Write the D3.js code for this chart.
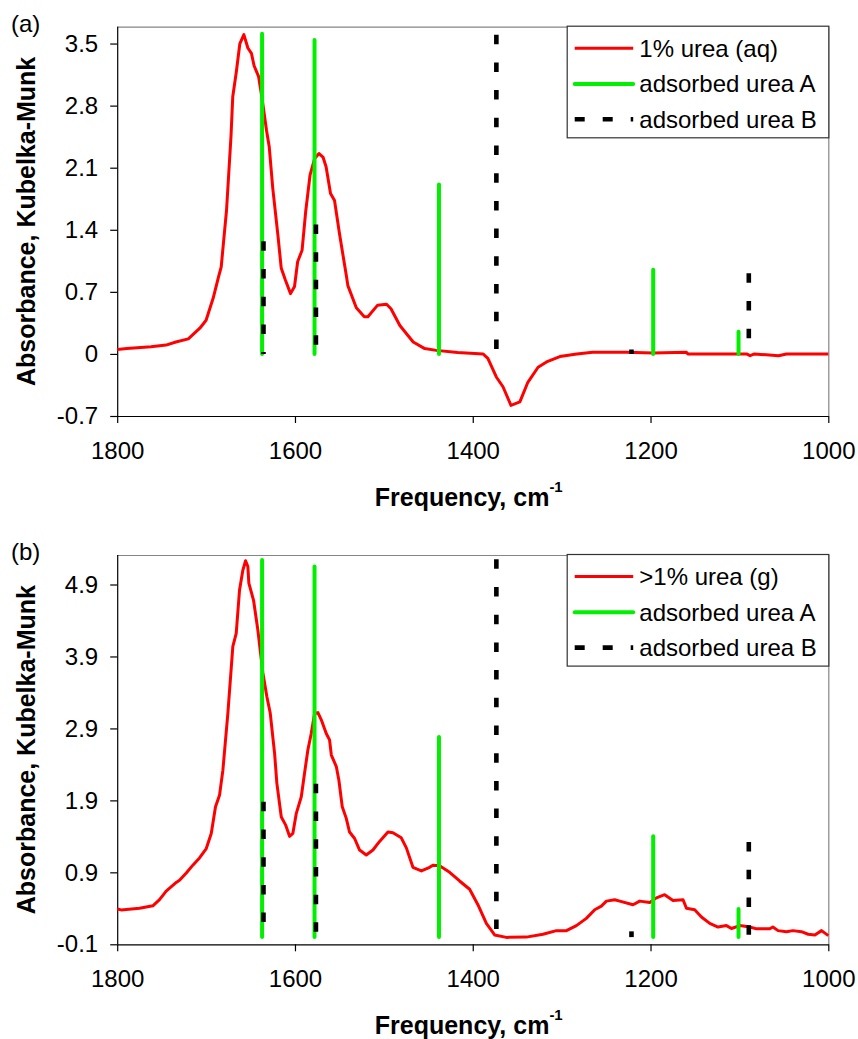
<!DOCTYPE html>
<html>
<head>
<meta charset="utf-8">
<script src="https://cdn.jsdelivr.net/npm/d3@7"></script>
<style>
  html, body { margin: 0; padding: 0; background: #fff; }
  svg { display: block; font-family: "Liberation Sans", Arial, sans-serif; }
</style>
</head>
<body>
<svg id="chart" width="858" height="1039"></svg>
<script>
// ---- Spectrum (a): 1% urea (aq) ----
const freqAq = [1800, 1789, 1762, 1745, 1734, 1720, 1707, 1700, 1692, 1686, 1683, 1677, 1672, 1670, 1666,
  1662, 1657.5, 1653, 1649, 1646, 1641, 1637, 1632, 1629, 1625, 1619, 1615.5, 1611, 1605, 1600.5,
  1597, 1592, 1588, 1583, 1578, 1573, 1568.5, 1565, 1560, 1555.5, 1550, 1542, 1540.5, 1531, 1522,
  1518, 1507, 1497, 1492, 1482, 1467, 1454, 1441, 1417, 1388.5, 1383, 1373.5, 1366, 1357, 1347,
  1338, 1326.5, 1317, 1302, 1283, 1265, 1227, 1197, 1160, 1158, 1092, 1088, 1083, 1070, 1056,
  1047, 1000];
const absAq = [0.05, 0.06, 0.08, 0.10, 0.135, 0.17, 0.29, 0.38, 0.63, 0.87, 0.98, 1.62, 2.45, 2.90, 3.18,
  3.50, 3.60, 3.45, 3.39, 3.25, 3.13, 2.88, 2.52, 2.34, 1.87, 1.32, 0.97, 0.84, 0.68, 0.76,
  1.04, 1.17, 1.60, 2.02, 2.20, 2.26, 2.22, 2.11, 1.81, 1.73, 1.36, 0.87, 0.77, 0.52, 0.42,
  0.42, 0.55, 0.56, 0.51, 0.32, 0.135, 0.06, 0.04, 0.015, 0.0, -0.05, -0.26, -0.37, -0.58, -0.54,
  -0.32, -0.15, -0.09, -0.03, 0.0, 0.02, 0.02, 0.01, 0.02, 0.0, 0.0, -0.02, 0.0, -0.01, -0.02,
  0.0, 0.0];

// ---- Spectrum (b): >1% urea (g) ----
const freqGas = [1800, 1795.5, 1774.9, 1759.9, 1752.4, 1744.9, 1733.6, 1729.9, 1722.3, 1714.9, 1707.4,
  1699.8, 1694.2, 1689.4, 1684.9, 1681.1, 1675.5, 1669.9, 1666.1, 1662.4, 1658.6, 1655.6, 1653,
  1651.9, 1646.6, 1641.8, 1636.1, 1631.6, 1627.8, 1622.9, 1620.4, 1615.4, 1610.6, 1606.1, 1602.4,
  1598.5, 1592.9, 1589.2, 1585.5, 1581.7, 1577.9, 1574.2, 1570.4, 1564.8, 1561.1, 1559.1, 1553.5,
  1550.6, 1546.8, 1542.3, 1538.6, 1532.9, 1527.3, 1519.8, 1512.3, 1504.8, 1495.4, 1489.8, 1480.4,
  1474.7, 1467.3, 1457.8, 1448.5, 1444.8, 1437.3, 1426, 1414.8, 1403.5, 1394.2, 1384.7, 1375.4,
  1362.2, 1339.7, 1321, 1305.9, 1294.6, 1283.4, 1272.2, 1262.8, 1255.3, 1249.6, 1240.3, 1234.6,
  1219.7, 1212.2, 1200.9, 1193.4, 1184.1, 1174.7, 1163.4, 1159.6, 1150.3, 1142.7, 1133.4, 1124,
  1114.6, 1108.9, 1099.6, 1088.3, 1080.8, 1065.8, 1062.4, 1056.5, 1047, 1039.9, 1030.2, 1022.7,
  1015.1, 1007.6, 1000];
const absGas = [0.39, 0.378, 0.40, 0.435, 0.52, 0.64, 0.76, 0.79, 0.89, 1.00, 1.10,
  1.23, 1.44, 1.81, 1.97, 2.32, 3.11, 4.04, 4.22, 4.82, 5.10, 5.23, 5.15,
  4.92, 4.68, 4.27, 3.67, 3.34, 3.11, 2.55, 2.14, 1.67, 1.56, 1.40, 1.44,
  1.72, 1.95, 2.28, 2.60, 2.83, 3.11, 3.12, 3.02, 2.83, 2.74, 2.53, 2.37,
  2.18, 1.81, 1.65, 1.46, 1.37, 1.21, 1.14, 1.21, 1.33, 1.46, 1.45, 1.38,
  1.24, 0.97, 0.92, 0.97, 1.00, 0.99, 0.90, 0.78, 0.665, 0.45, 0.19, 0.03,
  -0.004, 0.0, 0.04, 0.09, 0.09, 0.16, 0.26, 0.38, 0.43, 0.50, 0.52, 0.50,
  0.45, 0.50, 0.48, 0.545, 0.59, 0.51, 0.52, 0.40, 0.38, 0.28, 0.19, 0.14,
  0.16, 0.12, 0.16, 0.14, 0.115, 0.115, 0.14, 0.09, 0.075, 0.09, 0.075, 0.04,
  0.03, 0.09, 0.02];

// ---- Band positions of adsorbed urea species ----
const bandFreqA = [1637, 1578, 1438, 1197, 1101];
const bandAqA = [3.61, 3.54, 1.91, 0.95, 0.25];
const bandGasA = [5.24, 5.15, 2.78, 1.40, 0.39];
const bandFreqB = [1636, 1577, 1374, 1222, 1090];
const bandAqB = [1.27, 1.46, 3.60, 0.05, 0.91];
const bandGasB = [1.88, 2.13, 5.25, 0.08, 1.32];

// ---- Axis ticks and labels ----
const xTicks = [1800, 1600, 1400, 1200, 1000];
const yTicksAq = [-0.7, 0, 0.7, 1.4, 2.1, 2.8, 3.5];
const yTicksGas = [-0.1, 0.9, 1.9, 2.9, 3.9, 4.9];
const legendAq = ["1% urea (aq)", "adsorbed urea A", "adsorbed urea B"];
const legendGas = [">1% urea (g)", "adsorbed urea A", "adsorbed urea B"];
const panelLetters = ["(a)", "(b)"];
const xTitle = "Frequency, cm";
const xTitleSup = "-1";
const yTitle = "Absorbance, Kubelka-Munk";

const RED = "#ff0000", GREEN = "#00f000", BLACK = "#000000";
const FONT = 24;

const svg = d3.select("#chart");

const panels = [
  { letter: panelLetters[0], top: 26.7, bottom: 416, yDomain: [-0.7, 3.69], yTicks: yTicksAq,
    freq: freqAq, abs: absAq, bandA: bandAqA, bandB: bandAqB, legend: legendAq },
  { letter: panelLetters[1], top: 555, bottom: 944.3, yDomain: [-0.1, 5.31], yTicks: yTicksGas,
    freq: freqGas, abs: absGas, bandA: bandGasA, bandB: bandGasB, legend: legendGas }
];

const LEFT = 117.2, RIGHT = 828.3;

panels.forEach(p => {
  const g = svg.append("g");
  const x = d3.scaleLinear().domain([1800, 1000]).range([LEFT, RIGHT]);
  const y = d3.scaleLinear().domain(p.yDomain).range([p.bottom, p.top]);

  // plot frame: grey top and right edges
  g.append("path")
    .attr("d", `M${LEFT},${p.top + 0.5}H${RIGHT + 0.5}V${p.bottom}`)
    .attr("fill", "none").attr("stroke", "#858585").attr("stroke-width", 1.2);

  // y axis
  const ya = g.append("g").attr("transform", `translate(${LEFT},0)`)
    .call(d3.axisLeft(y).tickValues(p.yTicks).tickSize(7).tickSizeOuter(0).tickPadding(12)
      .tickFormat(d => d === 0 ? "0" : d.toFixed(1)));
  ya.select(".domain").attr("d", `M0.5,${p.top}V${p.bottom}`).attr("stroke", "#000").attr("stroke-width", 1.2);
  ya.selectAll(".tick line").attr("stroke", "#000").attr("stroke-width", 1.2);
  ya.selectAll("text").attr("font-size", FONT).attr("fill", "#000")
    .attr("font-family", "'Liberation Sans', Arial, sans-serif");

  // x axis
  const xa = g.append("g").attr("transform", `translate(0,${p.bottom})`)
    .call(d3.axisBottom(x).tickValues(xTicks).tickSize(7).tickSizeOuter(0).tickPadding(19)
      .tickFormat(d => String(d)));
  xa.select(".domain").attr("d", `M${LEFT},0.5H${RIGHT + 0.5}`).attr("stroke", "#000").attr("stroke-width", 1.2);
  xa.selectAll(".tick line").attr("stroke", "#000").attr("stroke-width", 1.2);
  xa.selectAll("text").attr("font-size", FONT).attr("fill", "#000")
    .attr("font-family", "'Liberation Sans', Arial, sans-serif");

  // axis titles
  const xt = g.append("text")
    .attr("x", (LEFT + RIGHT) / 2 - 4).attr("y", p.bottom + 90)
    .attr("text-anchor", "middle").attr("font-size", 25).attr("font-weight", "bold");
  xt.append("tspan").text(xTitle);
  xt.append("tspan").attr("font-size", 15).attr("dy", -14).text(xTitleSup);

  g.append("text")
    .attr("transform", `translate(35,${(p.top + p.bottom) / 2}) rotate(-90)`)
    .attr("text-anchor", "middle").attr("font-size", 25).attr("font-weight", "bold")
    .text(yTitle);

  g.append("text").attr("x", 11).attr("y", p.top + 5)
    .attr("font-size", 24).text(p.letter);

  // spectrum
  const pts = p.freq.map((f, i) => [f, p.abs[i]]);
  g.append("path").datum(pts)
    .attr("d", d3.line().x(d => x(d[0])).y(d => y(d[1])))
    .attr("fill", "none").attr("stroke", RED).attr("stroke-width", 3)
    .attr("stroke-linejoin", "round");

  // band A sticks
  g.selectAll(".bandA").data(bandFreqA.map((f, i) => [f, p.bandA[i]])).join("line")
    .attr("x1", d => x(d[0])).attr("x2", d => x(d[0]))
    .attr("y1", d => y(d[1])).attr("y2", y(0))
    .attr("stroke", GREEN).attr("stroke-width", 4).attr("stroke-linecap", "round");

  // band B sticks (dashed, drawn from the top down)
  g.selectAll(".bandB").data(bandFreqB.map((f, i) => [f, p.bandB[i]])).join("line")
    .attr("x1", d => x(d[0]) + 0.5).attr("x2", d => x(d[0]) + 0.5)
    .attr("y1", d => y(d[1])).attr("y2", y(0))
    .attr("stroke", BLACK).attr("stroke-width", 4.6).attr("stroke-dasharray", "9.5,18.2");

  // legend
  const lg = g.append("g").attr("transform", `translate(566.7,${p.top - 1})`);
  lg.append("rect").attr("x", 0.5).attr("y", 0.5).attr("width", 261.6).attr("height", 111.6)
    .attr("fill", "#fff").attr("stroke", "#333").attr("stroke-width", 1.2);
  const rows = [22.6, 58.3, 93.6];
  const styles = [
    { stroke: RED, width: 3, dash: null, cap: "butt" },
    { stroke: GREEN, width: 4, dash: null, cap: "round" },
    { stroke: BLACK, width: 4.6, dash: "10,18", cap: "butt" }
  ];
  p.legend.forEach((label, i) => {
    const s = styles[i];
    const ln = lg.append("line").attr("x1", 8).attr("x2", 66.5)
      .attr("y1", rows[i]).attr("y2", rows[i])
      .attr("stroke", s.stroke).attr("stroke-width", s.width).attr("stroke-linecap", s.cap);
    if (s.dash) ln.attr("stroke-dasharray", s.dash);
    lg.append("text").attr("x", 72.6).attr("y", rows[i] + 8.5)
      .attr("font-size", FONT).text(label);
  });
});
</script>
</body>
</html>
